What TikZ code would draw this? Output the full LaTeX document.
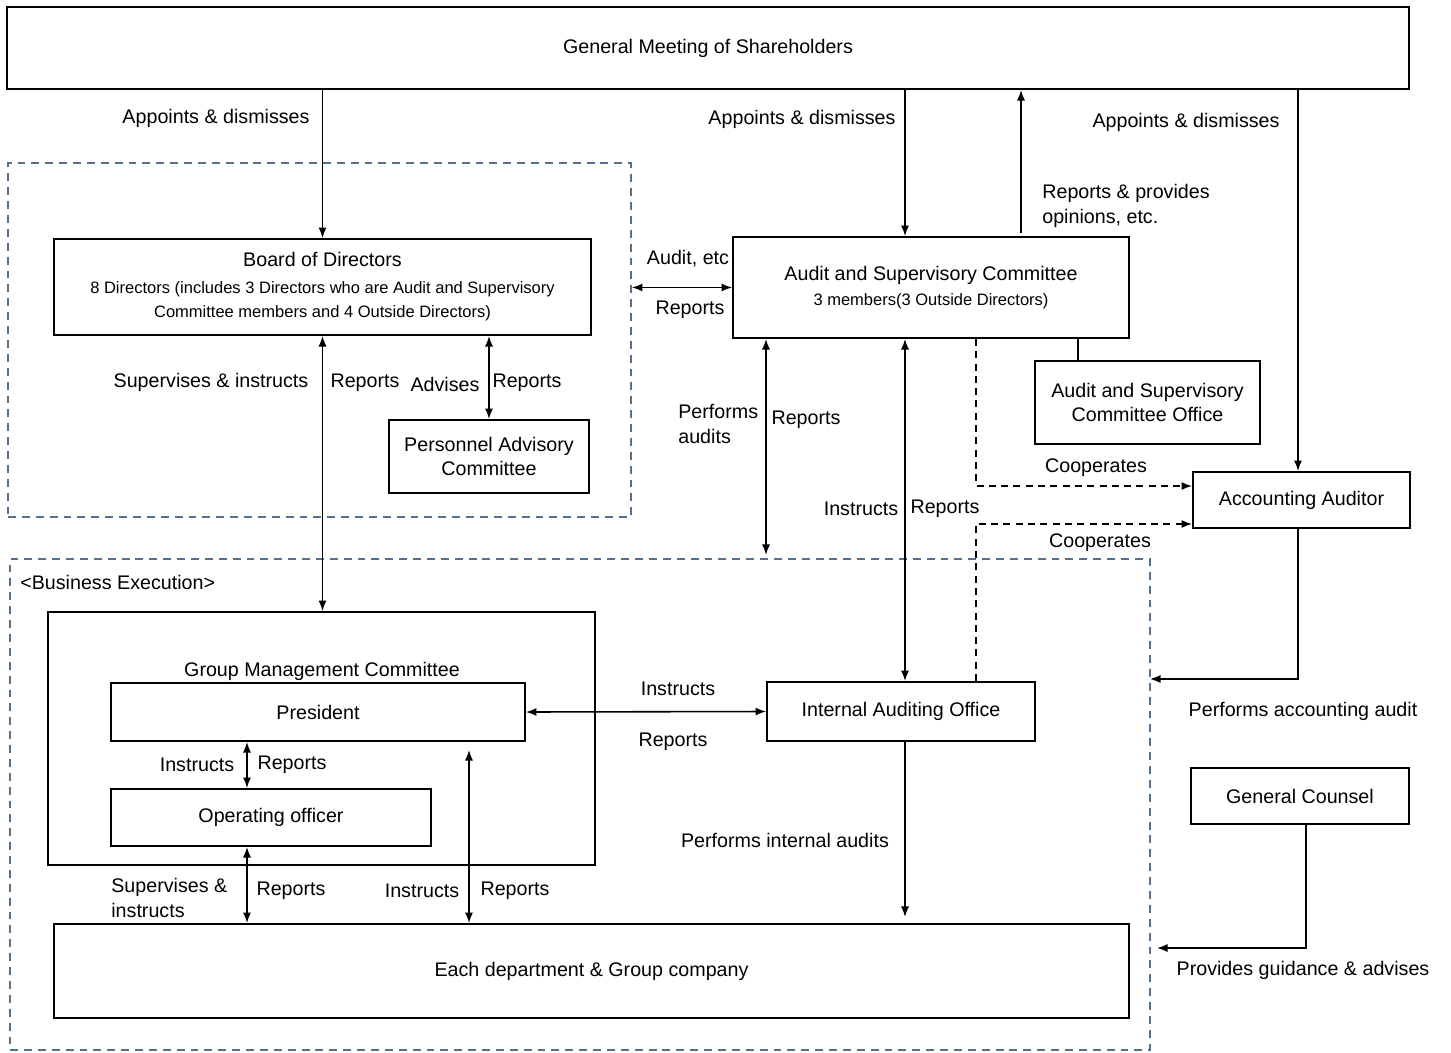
\documentclass[tikz,border=0pt]{standalone}
\usepackage{fontspec}
\setmainfont{Liberation Sans}
\usepackage{tikz}
\usetikzlibrary{positioning, arrows.meta}
\usepackage{xcolor}
\definecolor{zoneblue}{RGB}{84,112,142}
\newcommand{\subtxt}{\fontsize{9.4}{13}\selectfont}

\begin{document}
\begin{tikzpicture}[x=0.02cm, y=-0.02cm, >={Latex[length=6pt,width=4.6pt]},
    every node/.style={font=\fontsize{11.2}{14}\selectfont, inner sep=0pt},
    box/.style={draw, line width=1.1pt, align=center},
    zone/.style={draw=zoneblue, dash pattern=on 4.5pt off 3.4pt, line width=1.1pt},
    link/.style={line width=0.9pt},
    coop/.style={line width=0.9pt, ->, dash pattern=on 4pt off 3pt}]
    \useasboundingbox (0,0) rectangle (1451,1052);

    % dashed zones
    \node[zone, minimum width=12.46cm, minimum height=7.08cm] (boardzone) at (319.5,340) {};
    \node[zone, minimum width=22.8cm, minimum height=9.82cm] (bizzone) at (580,804.5) {};
    \node[anchor=west] (biztitle) at (20,582) {<Business Execution>};

    % boxes
    \node[box, minimum width=28.04cm, minimum height=1.64cm] (gms) at (708,48) {General Meeting of Shareholders};
    \node[box, minimum width=10.74cm, minimum height=1.92cm] (board) at (322.5,287)
        {Board of Directors\\[1pt]\subtxt 8 Directors (includes 3 Directors who are Audit and Supervisory\\\subtxt Committee members and 4 Outside Directors)};
    \node[box, minimum width=7.92cm, minimum height=2.02cm] (asc) at (931,287.5)
        {Audit and Supervisory Committee\\\subtxt 3 members(3 Outside Directors)};
    \node[box, minimum width=4cm, minimum height=1.46cm] (pac) at (489,456.5) {Personnel Advisory\\Committee};
    \node[box, minimum width=4.5cm, minimum height=1.66cm] (ascoffice) at (1147.5,402.5) {Audit and Supervisory\\Committee Office};
    \node[box, minimum width=4.34cm, minimum height=1.12cm] (aa) at (1301.5,500) {Accounting Auditor};
    \node[box, minimum width=4.36cm, minimum height=1.12cm] (gc) at (1300,796) {General Counsel};
    \node[box, minimum width=10.94cm, minimum height=5.06cm] (gmc) at (321.5,738.5) {};
    \node (gmctitle) at (322,671) {Group Management Committee};
    \node[box, minimum width=8.28cm, minimum height=1.16cm] (president) at (318,712) {President};
    \node[box, minimum width=6.4cm, minimum height=1.14cm] (oo) at (271,817.5) {Operating officer};
    \node[box, minimum width=5.36cm, minimum height=1.18cm] (iao) at (901,711.5) {Internal Auditing Office};
    \node[box, minimum width=21.5cm, minimum height=1.88cm] (dept) at (591.5,971) {Each department \& Group company};

    % columns and free ends
    \coordinate (colasc) at (905,0);
    \coordinate (colrep) at (1021,0);
    \coordinate (colaud) at (766,0);
    \coordinate (coldash) at (976,0);
    \coordinate (coloff) at (1078,0);
    \coordinate (colops) at (247,0);
    \coordinate (colgrp) at (469,0);
    \coordinate (colacct) at (1298,0);
    \coordinate (colcoun) at (1306,0);
    \coordinate (auditend) at (766,555);
    \coordinate (grpend) at (469,750);
    \coordinate (iaoend) at (905,917);
    \coordinate (coopa) at (976,486);
    \coordinate (coopb) at (976,524);
    \coordinate (acctin) at (1150,679);
    \coordinate (counselin) at (1157,948);

    % connectors
    \draw[link,->] (board.north |- gms.south) -- (board.north);
    \draw[link,->] (colasc |- gms.south) -- (colasc |- asc.north);
    \draw[link,->] ([yshift=0.06cm]colrep |- asc.north) -- (colrep |- gms.south);
    \draw[link,->] (colacct |- gms.south) -- (colacct |- aa.north);
    \draw[link,<->] (boardzone.east |- asc.west) -- (asc.west);
    \draw[link,<->] (board.south) -- (board.south |- gmc.north);
    \draw[link,<->] (pac.north |- board.south) -- (pac.north);
    \draw[link,<->] (colaud |- asc.south) -- (auditend);
    \draw[link,<->] (colasc |- asc.south) -- (colasc |- iao.north);
    \draw[link] (coloff |- asc.south) -- (coloff |- ascoffice.north);
    \draw[coop] (coldash |- asc.south) -- (coopa) -- (coopa -| aa.west);
    \draw[coop] (coldash |- iao.north) -- (coopb) -- (coopb -| aa.west);
    \draw[link,->] (colacct |- aa.south) |- (acctin);
    \draw[link,->] (colcoun |- gc.south) |- (counselin);
    \draw[link,<->] (president.east) -- (iao.west);
    \draw[link,<->] (colops |- president.south) -- (colops |- oo.north);
    \draw[link,<->] (colops |- oo.south) -- (colops |- dept.north);
    \draw[link,<->] (grpend) -- (colgrp |- dept.north);
    \draw[link,->] (colasc |- iao.south) -- (iaoend);

    % connector labels
    \node (appa) at (216,118) {Appoints \& dismisses};
    \node (appb) at (802,119) {Appoints \& dismisses};
    \node (appc) at (1186,122) {Appoints \& dismisses};
    \node[anchor=west, align=left] (repopin) at (1042,206) {Reports \& provides\\opinions, etc.};
    \node (auditetc) at (688,259) {Audit, etc};
    \node (repasc) at (690,310) {Reports};
    \node (supinsa) at (211,382) {Supervises \& instructs};
    \node (repboard) at (365,383) {Reports};
    \node (advises) at (445,384) {Advises};
    \node (reppac) at (527,383) {Reports};
    \node[anchor=west, align=left] (perfaud) at (678,424) {Performs\\audits};
    \node (repaud) at (806,420) {Reports};
    \node (insiao) at (861,509) {Instructs};
    \node (repiao) at (945,509) {Reports};
    \node (coopla) at (1096,468) {Cooperates};
    \node (cooplb) at (1100,543) {Cooperates};
    \node (acctaud) at (1303,711) {Performs accounting audit};
    \node (guidance) at (1303,970) {Provides guidance \& advises};
    \node (inspres) at (678,689) {Instructs};
    \node (reppres) at (673,742) {Reports};
    \node (insoo) at (197,765) {Instructs};
    \node (repoo) at (292,765) {Reports};
    \node[anchor=west, align=left] (supinsb) at (111,898) {Supervises \&\\instructs};
    \node (repdept) at (291,891) {Reports};
    \node (insgrp) at (422,891) {Instructs};
    \node (repgrp) at (515,891) {Reports};
    \node (intaud) at (785,840) {Performs internal audits};
\end{tikzpicture}
\end{document}
